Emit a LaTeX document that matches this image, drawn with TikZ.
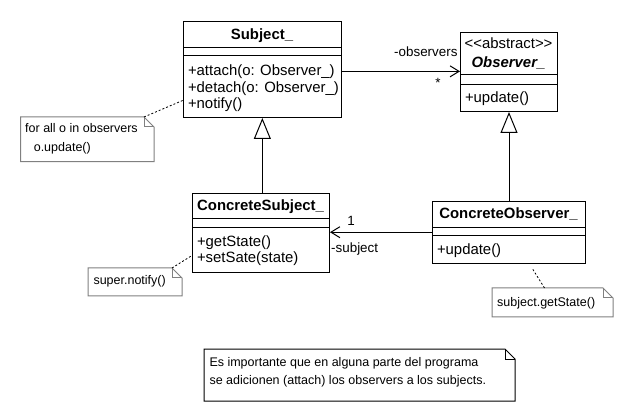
\documentclass[tikz,border=0pt]{standalone}
\usepackage{fontspec}
\setmainfont{Liberation Sans}
\usepackage{tikz}
\usetikzlibrary{arrows.meta}

\newcommand{\umlfont}{\fontsize{14.9}{16}\selectfont}
\newcommand{\labelfont}{\fontsize{13.4}{15}\selectfont}
\newcommand{\notefont}{\fontsize{12.5}{15}\selectfont}
% outline of a note with its folded corner
\newcommand{\dogear}[2]{%
	\draw[#2] (#1.north west) -- ([xshift=-10pt]#1.north east) -- ([yshift=-10pt]#1.north east)
		-- (#1.south east) -- (#1.south west) -- cycle;
	\draw[#2] ([xshift=-10pt]#1.north east) -- ([xshift=-10pt,yshift=-10pt]#1.north east)
		-- ([yshift=-10pt]#1.north east);
}

\begin{document}
\begin{tikzpicture}[x=1pt, y=-1pt, line width=1pt]
		\tikzstyle{classbox} = [draw, shape = rectangle, anchor = north west, inner sep = 0pt]
		\tikzstyle{notebox} = [shape = rectangle, anchor = north west, inner sep = 0pt]
		\tikzstyle{txt} = [inner sep = 0pt, font = \umlfont]
		\tikzstyle{lbl} = [inner sep = 0pt, font = \labelfont]
		\tikzstyle{ntxt} = [inner sep = 0pt, font = \notefont, anchor = base west]
		\tikzstyle{inherit} = [-{Triangle[length=21pt, width=17pt, fill=white]}]
		\tikzstyle{assoc} = [-{Straight Barb[length=9pt, width=11pt]}]
		\tikzstyle{anchorline} = [black, line width = 0.8pt, dash pattern = on 2pt off 2pt]
		\useasboundingbox (0, 0) rectangle (634, 411);
		\fill[white] (0, 0) rectangle (634, 411);

	% Clases
		\node[classbox, minimum width = 157.7pt, minimum height = 96.3pt](subj) at (183, 20.7) {};
		\draw (subj.west |- 0, 47.3) -- (subj.east |- 0, 47.3);
		\draw (subj.west |- 0, 56) -- (subj.east |- 0, 56);
		\node[txt, anchor = base, font = \umlfont\bfseries](subjname) at (262, 40) {Subject\_};
		\node[txt, anchor = base west](subjm1) at (187.5, 76) {+attach(o: Observer\_)};
		\node[txt, anchor = base west](subjm2) at (187.5, 92.3) {+detach(o: Observer\_)};
		\node[txt, anchor = base west](subjm3) at (187.5, 108.6) {+notify()};

		\node[classbox, minimum width = 97pt, minimum height = 79pt](obs) at (460, 32) {};
		\draw (obs.west |- 0, 75) -- (obs.east |- 0, 75);
		\draw (obs.west |- 0, 84.3) -- (obs.east |- 0, 84.3);
		\node[txt, anchor = base](obsstereo) at (508.5, 49) {<{}<abstract>{}>};
		\node[txt, anchor = base, font = \umlfont\bfseries\itshape](obsname) at (508.5, 67.5) {Observer\_};
		\node[txt, anchor = base west](obsm1) at (464.5, 102.5) {+update()};

		\node[classbox, minimum width = 137pt, minimum height = 79pt](csubj) at (192, 193) {};
		\draw (csubj.west |- 0, 219) -- (csubj.east |- 0, 219);
		\draw (csubj.west |- 0, 228) -- (csubj.east |- 0, 228);
		\node[txt, anchor = base, font = \umlfont\bfseries](csubjname) at (260.5, 210.5) {ConcreteSubject\_};
		\node[txt, anchor = base west](csubjm1) at (196.5, 246.7) {+getState()};
		\node[txt, anchor = base west](csubjm2) at (196.5, 263) {+setSate(state)};

		\node[classbox, minimum width = 153pt, minimum height = 62pt](cobs) at (432, 200.7) {};
		\draw (cobs.west |- 0, 227.7) -- (cobs.east |- 0, 227.7);
		\draw (cobs.west |- 0, 236) -- (cobs.east |- 0, 236);
		\node[txt, anchor = base, font = \umlfont\bfseries](cobsname) at (508.5, 218.5) {ConcreteObserver\_};
		\node[txt, anchor = base west](cobsm1) at (436.5, 255) {+update()};

	% Notas
		\node[notebox, minimum width = 132.3pt, minimum height = 43.7pt](note1) at (20.7, 117) {};
		\dogear{note1}{gray}
		\node[ntxt](note1a) at (24.7, 132.5) {for all o in observers};
		\node[ntxt](note1b) at (33.3, 151.5) {o.update()};

		\node[notebox, minimum width = 93pt, minimum height = 27pt](note2) at (88, 268) {};
		\dogear{note2}{gray}
		\node[ntxt](note2a) at (93, 284.5) {super.notify()};

		\node[notebox, minimum width = 120pt, minimum height = 28pt](note3) at (492, 288) {};
		\dogear{note3}{gray}
		\node[ntxt](note3a) at (496.7, 306.5) {subject.getState()};

		\node[notebox, minimum width = 310pt, minimum height = 51pt](note4) at (204, 349) {};
		\dogear{note4}{black}
		\node[ntxt](note4a) at (209, 366.5) {Es importante que en alguna parte del programa};
		\node[ntxt](note4b) at (209, 384.5) {se adicionen (attach) los observers a los subjects.};

	% Enlaces
		\draw[inherit] (subj.south |- csubj.north) -- (subj.south);
		\draw[inherit] (obs.south |- cobs.north) -- (obs.south);
		\draw[assoc] ([yshift=-2pt]subj.east) -- ([yshift=-2pt]subj.east -| obs.west);
		\node[lbl, anchor = base east](observers) at (458, 56.5) {-observers};
		\node[lbl, anchor = base](many) at (438, 88) {*};
		\draw[assoc] (cobs.west) -- (cobs.west -| csubj.east);
		\node[lbl, anchor = base](one) at (351, 226) {1};
		\node[lbl, anchor = base west](subject) at (330.7, 252.5) {-subject};

		\coordinate (cobsend) at (532, 268);
		\draw[anchorline] ([xshift=-10pt]note1.north east) -- ([yshift=-31pt]subj.west);
		\draw[anchorline] ([xshift=-10pt]note2.north east) -- ([yshift=-22.5pt]csubj.west);
		\draw[anchorline] ([xshift=-8pt]note3.north) -- (cobsend);
	\end{tikzpicture}
\end{document}
